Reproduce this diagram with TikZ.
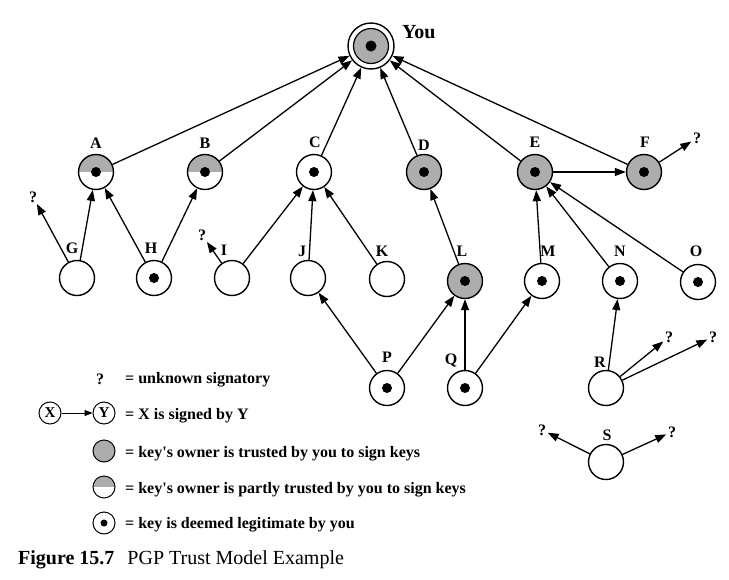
\documentclass[tikz,border=0pt]{standalone}
\usepackage{fontspec}
\setmainfont{Liberation Serif}
\usetikzlibrary{arrows.meta}
\definecolor{trust}{gray}{0.68}
\begin{document}
\begin{tikzpicture}[x=1pt,y=-1pt,
  every node/.style={inner sep=0pt},
  plainkey/.style={circle,draw,line width=1.4pt,minimum size=35pt,fill=white},
  dotpic/.style={path picture={\fill[black] (path picture bounding box.center) circle (5pt);}},
  legitkey/.style={plainkey,dotpic},
  trustkey/.style={plainkey,fill=trust,dotpic},
  partkey/.style={plainkey,path picture={
      \fill[trust] (path picture bounding box.west) rectangle (path picture bounding box.north east);
      \fill[black] (path picture bounding box.center) circle (5pt);}},
  sig/.style={-{Triangle[length=11pt,width=8pt]},line width=1.3pt},
  lab/.style={font=\fontsize{16}{16}\selectfont\bfseries,anchor=base},
  unk/.style={lab,inner sep=1.5pt},
  legtext/.style={font=\fontsize{16}{16}\selectfont\bfseries,anchor=base west},
  legkey/.style={circle,draw,line width=1pt,minimum size=22pt,fill=white}
]
\useasboundingbox (0,0) rectangle (729,579);

% the owner's own key
\node[circle,draw,line width=1.4pt,minimum size=46pt,fill=white] (you) at (371,46) {};
\draw[line width=1.2pt,fill=trust] (you.center) circle (17.5pt);
\fill (you.center) circle (5.5pt);
\node[font=\fontsize{20}{20}\selectfont\bfseries,anchor=base west] (youlab) at (402,38) {You};

% first row of keys
\node[partkey]  (A) at (96,172) {};
\node[partkey]  (B) at (205,172) {};
\node[legitkey] (C) at (314,172) {};
\node[trustkey] (D) at (424,172) {};
\node[trustkey] (E) at (535,172) {};
\node[trustkey] (F) at (644,172) {};

% second row
\node[plainkey] (G) at (77,278) {};
\node[legitkey] (H) at (154,278) {};
\node[plainkey] (I) at (232,278) {};
\node[plainkey] (J) at (308,278) {};
\node[plainkey] (K) at (387,279) {};
\node[trustkey] (L) at (465,281) {};
\node[legitkey] (M) at (542,281) {};
\node[legitkey] (N) at (620,281) {};
\node[legitkey] (O) at (698,282) {};

% third row
\node[legitkey] (P) at (387,388) {};
\node[legitkey] (Q) at (465,388) {};
\node[plainkey] (R) at (606,388) {};
\node[plainkey] (S) at (606,462) {};

% key names
\node[lab] (lA) at (96,148) {A};
\node[lab] (lB) at (205,148) {B};
\node[lab] (lC) at (315,147) {C};
\node[lab] (lD) at (424,150) {D};
\node[lab] (lE) at (535,147) {E};
\node[lab] (lF) at (645,147) {F};
\node[lab] (lG) at (72,253) {G};
\node[lab] (lH) at (151,253) {H};
\node[lab] (lI) at (224,255) {I};
\node[lab] (lJ) at (302,256) {J};
\node[lab] (lK) at (382,256) {K};
\node[lab] (lL) at (462,256) {L};
\node[lab] (lM) at (548,256) {M};
\node[lab] (lN) at (620,256) {N};
\node[lab] (lO) at (696,256) {O};
\node[lab] (lP) at (387,362) {P};
\node[lab] (lQ) at (451,364) {Q};
\node[lab] (lR) at (600,367) {R};
\node[lab] (lS) at (607,440) {S};

% unknown signatories
\node[unk] (uG)  at (33,202) {?};
\node[unk] (uI)  at (202,240) {?};
\node[unk] (uF)  at (697,143) {?};
\node[unk] (uR1) at (669,342) {?};
\node[unk] (uR2) at (713,342) {?};
\node[unk] (uS1) at (542,435) {?};
\node[unk] (uS2) at (672,437) {?};

% signatures into the owner's key
\foreach \k in {A,B,C,D,E,F} \draw[sig] (\k) -- (you);

% other signatures
\draw[sig] (G) -- (A);
\draw[sig] (G) -- (uG);
\draw[sig] (H) -- (A);
\draw[sig] (H) -- (B);
\draw[sig] (I) -- (C);
\draw[sig] (I) -- (uI);
\draw[sig] (J) -- (C);
\draw[sig] (K) -- (C);
\draw[sig] (L) -- (D);
\draw[sig] (M) -- (E);
\draw[sig] (N) -- (E);
\draw[sig] (O) -- (E);
\draw[sig] (E) -- (F);
\draw[sig] (F) -- (uF);
\draw[sig] (P) -- (J);
\draw[sig] (P) -- (L);
\draw[sig] (Q) -- (L);
\draw[sig] (Q) -- (M);
\draw[sig] (R) -- (N);
\draw[sig] (R) -- (uR1);
\draw[sig] (R) -- (uR2);
\draw[sig] (S) -- (uS1);
\draw[sig] (S) -- (uS2);

% legend
\node[lab] (kq) at (100,384) {?};
\node[legtext] (t1) at (125,383) {= unknown signatory};

\node[legkey,font=\fontsize{15}{15}\selectfont\bfseries] (kx) at (50,413) {X};
\node[legkey,font=\fontsize{15}{15}\selectfont\bfseries] (ky) at (104,413) {Y};
\draw[-{Triangle[length=8pt,width=6pt]},line width=1pt] (kx) -- (ky);
\node[legtext] (t2) at (125,419) {= X is signed by Y};

\node[legkey,fill=trust] (kt) at (104,451) {};
\node[legtext] (t3) at (125,457) {= key\textquotesingle s owner is trusted by you to sign keys};

\node[legkey,path picture={\fill[trust] (path picture bounding box.west) rectangle (path picture bounding box.north east);}] (kp) at (104,487) {};
\node[legtext] (t4) at (125,493) {= key\textquotesingle s owner is partly trusted by you to sign keys};

\node[legkey,path picture={\fill[black] (path picture bounding box.center) circle (3.5pt);}] (kl) at (104,523) {};
\node[legtext] (t5) at (125,528) {= key is deemed legitimate by you};

% caption
\node[anchor=base west,font=\fontsize{20}{20}\selectfont] (cap) at (18,564)
  {\textbf{Figure 15.7}\hspace{13pt}PGP Trust Model Example};
\end{tikzpicture}
\end{document}
